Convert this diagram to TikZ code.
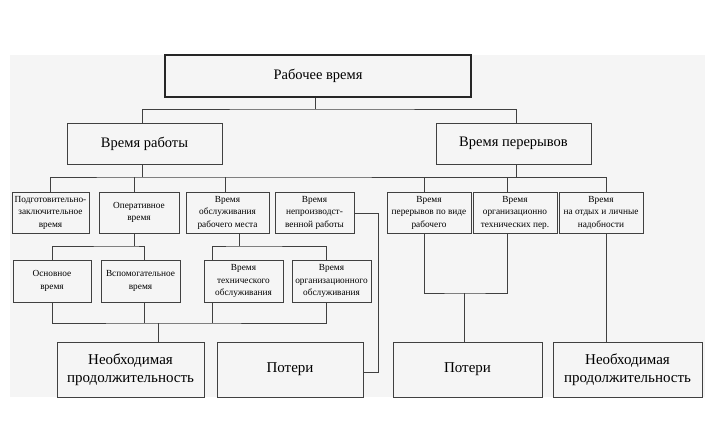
\documentclass[tikz,border=0pt]{standalone}
\usepackage{fontspec}
\setmainfont{Liberation Serif}
\begin{document}
\begin{tikzpicture}[x=1pt,y=-1pt,
  ln/.style={draw=black!75, line width=0.8pt},
  box/.style={ln, rectangle, align=center, inner sep=1pt, anchor=center},
  topbox/.style={box, line width=1.6pt, draw=black!85, minimum width=306pt, minimum height=42pt, font=\fontsize{14.5}{16}\selectfont},
  midbox/.style={box, minimum width=155pt, minimum height=41pt, font=\fontsize{14.5}{16}\selectfont},
  smallbox/.style={box, minimum height=41pt, font=\fontsize{9.3}{12.5}\selectfont},
  botbox/.style={box, minimum height=55pt, font=\fontsize{15}{17.5}\selectfont}
]
\useasboundingbox (0,0) rectangle (713,425);
\fill[black!4] (10,55) rectangle (705,397);

% level 1-2
\node[topbox] (top) at (318,76) {Рабочее время};
\node[midbox] (work) at (144.5,143.5) {Время работы};
\node[midbox] (brk) at (513.5,143.5) {Время перерывов};

% level 3
\node[smallbox, minimum width=77pt] (a1) at (50.5,212.5) {Подготовительно-\\заключительное\\время};
\node[smallbox, minimum width=80pt] (a2) at (139,212.5) {Оперативное\\время};
\node[smallbox, minimum width=83pt] (a3) at (227.5,212.5) {Время\\обслуживания\\рабочего места};
\node[smallbox, minimum width=79pt] (a4) at (314.5,212.5) {Время\\непроизводст-\\венной работы};
\node[smallbox, minimum width=84pt] (b1) at (429,212.5) {Время\\перерывов по виде\\рабочего};
\node[smallbox, minimum width=84pt] (b2) at (515,212.5) {Время\\организационно\\технических пер.};
\node[smallbox, minimum width=84pt] (b3) at (601,212.5) {Время\\на отдых и личные\\надобности};

% level 4
\node[smallbox, minimum width=78pt, minimum height=42pt] (c1) at (52,281) {Основное\\время};
\node[smallbox, minimum width=79pt, minimum height=42pt] (c2) at (140.5,281) {Вспомогательное\\время};
\node[smallbox, minimum width=79pt, minimum height=42pt] (c3) at (243.5,281) {Время\\технического\\обслуживания};
\node[smallbox, minimum width=79pt, minimum height=42pt] (c4) at (331.5,281) {Время\\организационного\\обслуживания};

% bottom
\node[botbox, minimum width=147pt] (d1) at (130.5,369.5) {Необходимая\\продолжительность};
\node[botbox, minimum width=146pt] (d2) at (290,369.5) {Потери};
\node[botbox, minimum width=149pt] (d3) at (467.5,369.5) {Потери};
\node[botbox, minimum width=149pt] (d4) at (627.5,369.5) {Необходимая\\продолжительность};

% bus coordinates
\coordinate (j1) at (315,109);
\coordinate (j2) at (142,177);
\coordinate (j3) at (134,246);
\coordinate (j4) at (239,246);
\coordinate (j5) at (158,323);
\coordinate (j6) at (464,293);
\coordinate (j7) at (378,213);

% connectors
\draw[ln] ([xshift=-3pt]top.south) -- (j1);
\draw[ln] ([xshift=-2.5pt]work.north) |- (j1) -| ([xshift=2.5pt]brk.north);
\draw[ln] ([xshift=-2.5pt]work.south) -- (j2);
\draw[ln] ([xshift=2.5pt]brk.south) -- ([xshift=2.5pt]brk.south |- j2);
\draw[ln] (a1.north) |- (j2) -| ([xshift=5pt]b3.north);
\draw[ln] ([xshift=-5pt]a2.north) -- ([xshift=-5pt]a2.north |- j2);
\draw[ln] ([xshift=-2.5pt]a3.north) -- ([xshift=-2.5pt]a3.north |- j2);
\draw[ln] ([xshift=-5pt]b1.north) -- ([xshift=-5pt]b1.north |- j2);
\draw[ln] ([xshift=-8pt]b2.north) -- ([xshift=-8pt]b2.north |- j2);

\draw[ln] ([xshift=-5pt]a2.south) -- (j3);
\draw[ln] (c1.north) |- (j3) -| ([xshift=3.5pt]c2.north);
\draw[ln] ([xshift=11.5pt]a3.south) -- (j4);
\draw[ln] ([xshift=-31.5pt]c3.north) |- (j4) -| ([xshift=-5.5pt]c4.north);

\draw[ln] (c1.south) |- (j5) -| ([xshift=-5.5pt]c4.south);
\draw[ln] ([xshift=3.5pt]c2.south) -- ([xshift=3.5pt]c2.south |- j5);
\draw[ln] ([xshift=-31.5pt]c3.south) -- ([xshift=-31.5pt]c3.south |- j5);
\draw[ln] (j5) -- ([xshift=27.5pt]d1.north);

\draw[ln] (a4.east |- j7) -- (j7) |- ([yshift=-2.5pt]d2.east);

\draw[ln] ([xshift=-5pt]b1.south) |- (j6) -| ([xshift=-8pt]b2.south);
\draw[ln] (j6) -- ([xshift=-3.5pt]d3.north);
\draw[ln] ([xshift=5pt]b3.south) -- ([xshift=-21.5pt]d4.north);
\end{tikzpicture}
\end{document}
